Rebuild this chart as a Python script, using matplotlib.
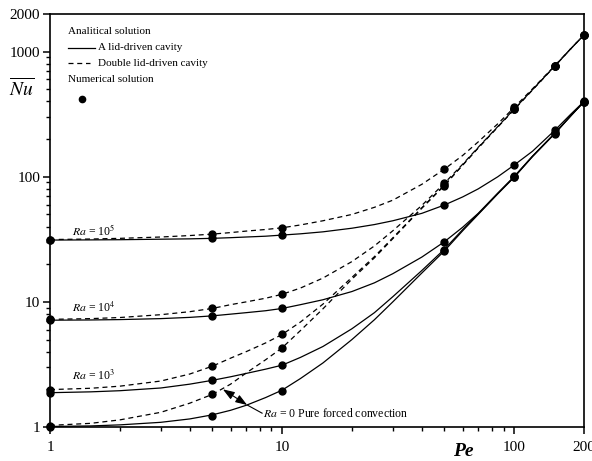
import numpy as np
import matplotlib
matplotlib.use('Agg')
from matplotlib import pyplot as plt
from matplotlib.lines import Line2D

plt.rcParams['font.family'] = ['Liberation Serif', 'DejaVu Serif']
plt.rcParams['mathtext.fontset'] = 'stix'

# analytical curves
pe_curve = [1, 1.5, 2, 3, 4, 5, 6, 7, 8.5, 10, 12, 15, 20, 25, 30, 40, 50,
            60, 70, 85, 100, 120, 150, 175, 200]
single_ra0 = [1.01, 1.02, 1.04, 1.09, 1.16, 1.25, 1.36, 1.49, 1.72, 1.97, 2.44, 3.25, 5.0,
              7.2, 10, 17, 25.5, 37, 50, 73, 99, 145, 222, 305, 398]
single_ra3 = [1.88, 1.91, 1.95, 2.05, 2.2, 2.36, 2.52, 2.68, 2.9, 3.12, 3.6, 4.4, 6.1,
              8.2, 11, 17.8, 26.3, 37.8, 50.5, 73.5, 99.5, 146, 223, 306, 398]
single_ra4 = [7.14, 7.17, 7.22, 7.35, 7.52, 7.73, 7.98, 8.2, 8.5, 8.86, 9.5, 10.4, 12.1,
              14.2, 16.8, 22.8, 30.2, 39.5, 51, 74, 100.5, 146, 224, 306, 398]
single_ra5 = [31.2, 31.3, 31.4, 31.7, 31.9, 32.2, 32.6, 33.0, 33.5, 34.2, 35.0, 36.3, 38.8,
              41.5, 44.5, 51, 59.4, 69, 80, 100, 124, 160, 236, 315, 400]
double_ra0 = [1.03, 1.07, 1.14, 1.31, 1.55, 1.82, 2.2, 2.7, 3.45, 4.29, 5.9, 8.8, 15.2,
              22.5, 32, 56, 85, 124, 170, 250, 345, 495, 770, 1050, 1360]
double_ra3 = [1.99, 2.04, 2.12, 2.33, 2.65, 3.06, 3.55, 4.0, 4.7, 5.49, 6.9, 9.6, 15.7,
              23, 32.5, 56.5, 85.5, 124, 170, 250, 345, 495, 770, 1050, 1360]
double_ra4 = [7.25, 7.35, 7.5, 7.9, 8.35, 8.86, 9.5, 10.0, 10.7, 11.5, 12.9, 15.5, 21,
              28, 37, 59, 88.6, 126, 172, 252, 348, 497, 772, 1050, 1360]
double_ra5 = [31.5, 31.8, 32.2, 33.0, 33.9, 34.8, 35.8, 36.8, 37.9, 39.1, 41.2, 44.5, 50,
              57, 65, 87, 115, 148, 190, 265, 358, 505, 775, 1052, 1360]

# numerical solution points
pe_num = [1, 5, 10, 50, 100, 150, 200]
num_single_ra0 = [1.0, 1.22, 1.94, 25.5, 99, 220, 398]
num_single_ra3 = [1.88, 2.36, 3.12, 26, 99, 222, 398]
num_single_ra4 = [7.14, 7.73, 8.86, 30.2, 101, 224, 398]
num_single_ra5 = [31.2, 32.2, 34.2, 59.4, 124, 236, 400]
num_double_ra0 = [1.02, 1.82, 4.29, 84.7, 345, 770, 1360]
num_double_ra3 = [1.99, 3.06, 5.49, 85.5, 345, 770, 1360]
num_double_ra4 = [7.25, 8.86, 11.5, 88.6, 348, 770, 1360]
num_double_ra5 = [31.5, 34.8, 39.1, 115, 358, 775, 1360]

W, H = 592, 461
fig = plt.figure(figsize=(W/100, H/100), dpi=100)
ax = fig.add_axes([50/W, 34/H, 534/W, 413/H])

dash = (0, (4, 3))
for y in [single_ra0, single_ra3, single_ra4, single_ra5]:
    ax.plot(pe_curve, y, color='black', lw=0.9)
for y in [double_ra0, double_ra3, double_ra4, double_ra5]:
    ax.plot(pe_curve, y, color='black', lw=0.9, linestyle=dash)

for y in [num_single_ra0, num_single_ra3, num_single_ra4, num_single_ra5,
          num_double_ra0, num_double_ra3, num_double_ra4, num_double_ra5]:
    ax.plot(pe_num, y, 'o', color='black', markersize=5, clip_on=False, zorder=5)

ax.set_xscale('log')
ax.set_yscale('log')
ax.set_xlim(1, 200)
ax.set_ylim(1, 2000)
ax.set_xticks([1, 10, 100, 200])
ax.set_xticklabels(['1', '10', '100', '200'])
ax.set_yticks([1, 10, 100, 1000, 2000])
ax.set_yticklabels(['1', '10', '100', '1000', '2000'])
ax.tick_params(which='major', direction='out', length=5, width=1.1, labelsize=11, pad=2)
ax.tick_params(which='minor', direction='out', length=3, width=1.0)
ax.tick_params(axis='x', pad=5)
for s in ax.spines.values():
    s.set_linewidth(1.2)

# axis titles
fig.text(9/W, 1 - 88/H, r'$\overline{Nu}$', fontsize=14, va='center', ha='left')
fig.text(453/W, 1 - 451/H, 'Pe', fontsize=14, fontweight='bold', fontstyle='italic',
         va='center', ha='left')

# Ra labels
ax.text(1.25, 32.3, r'$Ra$ = 10$^5$', fontsize=8.5, va='bottom', ha='left')
ax.text(1.25, 7.83, r'$Ra$ = 10$^4$', fontsize=8.5, va='bottom', ha='left')
ax.text(1.25, 2.24, r'$Ra$ = 10$^3$', fontsize=8.5, va='bottom', ha='left')

# Ra = 0 annotation
ax.annotate('', xy=(5.56, 2.0), xytext=(7.07, 1.5),
            arrowprops=dict(arrowstyle='<|-|>,head_length=0.7,head_width=0.25',
                            color='black', lw=0.8, mutation_scale=10,
                            shrinkA=0, shrinkB=0))
ax.plot([7.07, 8.2], [1.5, 1.29], color='black', lw=0.8)
ax.text(8.25, 1.29, r'$Ra$ = 0 Pure forced convection', fontsize=8.5, va='center', ha='left')

# legend drawn by hand
tf = fig.transFigure
fig.text(68/W, 1 - 32/H, 'Analitical solution', fontsize=8, va='center')
fig.add_artist(Line2D([68/W, 95/W], [1 - 48/H, 1 - 48/H], color='black', lw=0.9, transform=tf))
fig.text(98/W, 1 - 48/H, 'A lid-driven cavity', fontsize=8, va='center')
fig.add_artist(Line2D([68/W, 90/W], [1 - 63/H, 1 - 63/H], color='black', lw=0.9,
                      linestyle=dash, transform=tf))
fig.text(98/W, 1 - 63/H, 'Double lid-driven cavity', fontsize=8, va='center')
fig.text(68/W, 1 - 80/H, 'Numerical solution', fontsize=8, va='center')
fig.add_artist(Line2D([82/W], [1 - 99/H], marker='o', color='black', markersize=4.5,
                      transform=tf))

fig.savefig('out.png', dpi=100)
